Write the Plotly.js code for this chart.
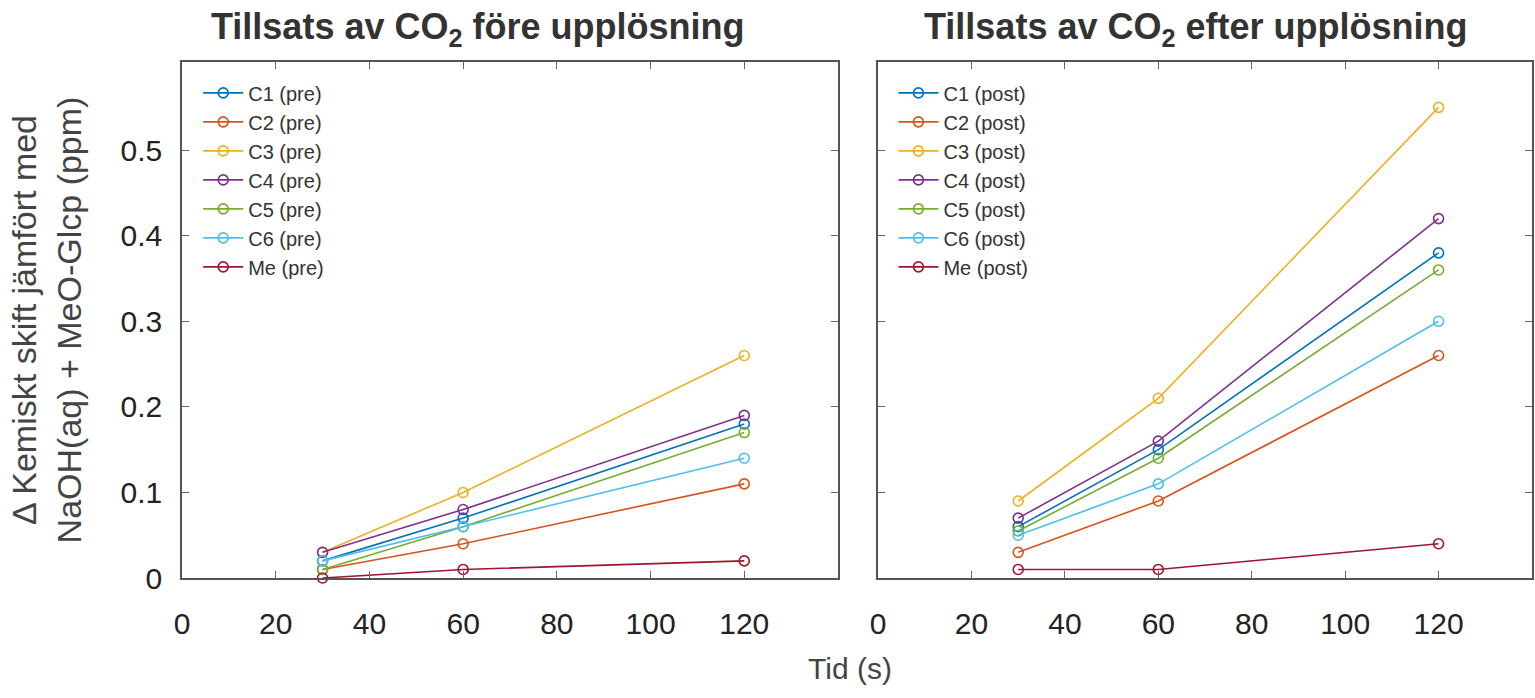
<!DOCTYPE html>
<html>
<head>
<meta charset="utf-8">
<script src="https://cdn.plot.ly/plotly-3.0.1.min.js"></script>
<style>html,body{margin:0;padding:0;background:#fff;}#chart{width:1535px;height:698px;}</style>
</head>
<body>
<div id="chart"></div>
<script>
// ---- data ----
const times = [30, 60, 120];
const seriesNames = ['C1', 'C2', 'C3', 'C4', 'C5', 'C6', 'Me'];
const seriesColors = ['#0072BD', '#D95319', '#EDB120', '#7E2F8E', '#77AC30', '#4DBEEE', '#A2142F'];

const preC1 = [0.02, 0.07, 0.18];
const preC2 = [0.01, 0.04, 0.11];
const preC3 = [0.03, 0.10, 0.26];
const preC4 = [0.03, 0.08, 0.19];
const preC5 = [0.01, 0.06, 0.17];
const preC6 = [0.02, 0.06, 0.14];
const preMe = [0.00, 0.01, 0.02];

const postC1 = [0.06, 0.15, 0.38];
const postC2 = [0.03, 0.09, 0.26];
const postC3 = [0.09, 0.21, 0.55];
const postC4 = [0.07, 0.16, 0.42];
const postC5 = [0.055, 0.14, 0.36];
const postC6 = [0.05, 0.11, 0.30];
const postMe = [0.01, 0.01, 0.04];

const xTickVals = [0, 20, 40, 60, 80, 100, 120];
const yTickVals = [0, 0.1, 0.2, 0.3, 0.4, 0.5];
const yTickText = ['0', '0.1', '0.2', '0.3', '0.4', '0.5'];

const titleLeft = 'Tillsats av CO<sub>2</sub> före upplösning';
const titleRight = 'Tillsats av CO<sub>2</sub> efter upplösning';
const yTitle = 'Δ Kemiskt skift jämfört med<br>NaOH(aq) + MeO-Glcp (ppm)';
const xTitle = 'Tid (s)';

const preSeries = [preC1, preC2, preC3, preC4, preC5, preC6, preMe];
const postSeries = [postC1, postC2, postC3, postC4, postC5, postC6, postMe];

// ---- traces ----
const FONT = 'Liberation Sans, Arial, Helvetica, sans-serif';
const traces = [];
function mk(vals, i, suffix, xa, ya, leg) {
  return {
    x: times, y: vals, type: 'scatter', mode: 'lines+markers',
    name: seriesNames[i] + ' (' + suffix + ')',
    xaxis: xa, yaxis: ya, legend: leg,
    cliponaxis: false,
    line: {color: seriesColors[i], width: 1.6},
    marker: {symbol: 'circle-open', size: 10, color: seriesColors[i], line: {width: 1.6, color: seriesColors[i]}}
  };
}
preSeries.forEach((v, i) => traces.push(mk(v, i, 'pre', 'x', 'y', 'legend')));
postSeries.forEach((v, i) => traces.push(mk(v, i, 'post', 'x2', 'y2', 'legend2')));

const axisCommon = {
  showline: true, linecolor: '#555', linewidth: 1.5, mirror: 'ticks',
  ticks: 'inside', ticklen: 7, tickwidth: 1, tickcolor: '#666',
  showgrid: false, zeroline: false,
  tickfont: {family: FONT, size: 30, color: '#222'}
};

const legendCommon = {xanchor: 'left', yanchor: 'top', bgcolor: 'rgba(0,0,0,0)', itemwidth: 40,
  font: {family: FONT, size: 20, color: '#333'}, tracegroupgap: 0};

const layout = {
  width: 1535, height: 698,
  margin: {l: 182, r: 3, t: 62, b: 120},
  paper_bgcolor: '#fff', plot_bgcolor: '#fff',
  showlegend: true,
  xaxis: Object.assign({}, axisCommon, {domain: [0, 0.4859], range: [0, 140], tickvals: xTickVals, ticklabelstandoff: 18}),
  xaxis2: Object.assign({}, axisCommon, {domain: [0.5156, 1], range: [0, 140], tickvals: xTickVals, ticklabelstandoff: 18, anchor: 'y2'}),
  yaxis: Object.assign({}, axisCommon, {range: [0, 0.603], tickvals: yTickVals, ticktext: yTickText, ticklabelstandoff: 12,
    title: {text: yTitle, font: {family: FONT, size: 34, color: '#444'}, standoff: 29}}),
  yaxis2: Object.assign({}, axisCommon, {range: [0, 0.603], tickvals: yTickVals, showticklabels: false, anchor: 'x2'}),
  legend: Object.assign({}, legendCommon, {x: 0.012, y: 0.978}),
  legend2: Object.assign({}, legendCommon, {x: 0.527, y: 0.978}),
  annotations: [
    {text: '<b>' + titleLeft + '</b>', xref: 'paper', yref: 'paper', x: 0.219, y: 1.0, xanchor: 'center', yanchor: 'bottom', yshift: 8,
      showarrow: false, font: {family: FONT, size: 36, color: '#333'}},
    {text: '<b>' + titleRight + '</b>', xref: 'paper', yref: 'paper', x: 0.751, y: 1.0, xanchor: 'center', yanchor: 'bottom', yshift: 8,
      showarrow: false, font: {family: FONT, size: 36, color: '#333'}},
    {text: xTitle, xref: 'paper', yref: 'paper', x: 0.495, y: 0, xanchor: 'center', yanchor: 'middle', yshift: -90,
      showarrow: false, font: {family: FONT, size: 30, color: '#444'}}
  ]
};

Plotly.newPlot('chart', traces, layout, {displayModeBar: false, responsive: false});
</script>
</body>
</html>
